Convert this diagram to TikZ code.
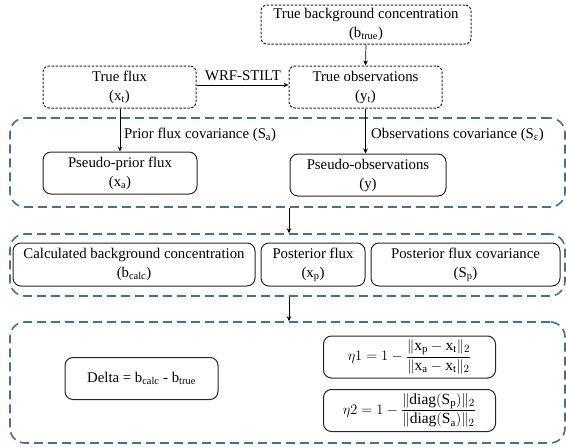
\documentclass[tikz,border=0pt]{standalone}
\usepackage{fontspec}
\setmainfont{Liberation Serif}
\usetikzlibrary{arrows.meta}
\definecolor{regblue}{HTML}{41719C}
\definecolor{boxline}{HTML}{262626}
\newcommand\sbs[1]{\textsubscript{#1}}
\begin{document}
\begin{tikzpicture}[x=1pt,y=-1pt,
  every node/.style={font=\fontsize{14.8}{19}\selectfont},
  truebox/.style={draw=boxline, line width=1pt, dash pattern=on 2.5pt off 1.5pt, rounded corners=6pt, align=center, inner sep=1pt},
  solidbox/.style={draw=boxline, line width=1pt, rounded corners=8pt, align=center, inner sep=1pt},
  region/.style={draw=regblue, line width=1.6pt, dash pattern=on 9pt off 5pt, rounded corners=15pt, inner sep=0pt},
  lbl/.style={inner sep=1pt},
  eqn/.style={font=\fontsize{15.5}{19}\selectfont},
  arr/.style={draw=black, line width=0.7pt, -{Stealth[length=5pt,width=4.5pt]}}
]
\useasboundingbox (0,0) rectangle (566,447);

% regions
\node[region, minimum width=555pt, minimum height=89pt] (r1) at (287.5,162.5) {};
\node[region, minimum width=555pt, minimum height=62pt] (r2) at (287.5,265) {};
\node[region, minimum width=555pt, minimum height=121pt] (r3) at (287.5,382.5) {};

% top boxes
\node[truebox, minimum width=210pt, minimum height=39pt] (tb) at (366,24.5) {True background concentration\\(b\sbs{true})};
\node[truebox, minimum width=153pt, minimum height=42pt] (tf) at (119.5,87) {True flux\\(x\sbs{t})};
\node[truebox, minimum width=153pt, minimum height=42pt] (to) at (365.5,87) {True observations\\(y\sbs{t})};

% pseudo boxes
\node[solidbox, minimum width=154pt, minimum height=42pt] (pp) at (120,173) {Pseudo-prior flux\\(x\sbs{a})};
\node[solidbox, minimum width=156pt, minimum height=42pt] (po) at (368,175) {Pseudo-observations\\(y)};

% posterior boxes
\node[solidbox, minimum width=242pt, minimum height=43pt] (bc) at (134,264.5) {Calculated background concentration\\(b\sbs{calc})};
\node[solidbox, minimum width=104pt, minimum height=43pt] (pf) at (313,264.5) {Posterior flux\\(x\sbs{p})};
\node[solidbox, minimum width=189pt, minimum height=43pt] (pc) at (465.5,264.5) {Posterior flux covariance\\(S\sbs{p})};

% result boxes
\node[solidbox, minimum width=153pt, minimum height=42pt] (dl) at (141.5,378.5) {Delta = b\sbs{calc} - b\sbs{true}};
\node[solidbox, eqn, minimum width=172pt, minimum height=42pt] (e1) at (409.5,357) {$\displaystyle \eta1 = 1 - \frac{\Vert\mathrm{x}_{\mathrm{p}} - \mathrm{x}_{\mathrm{t}}\Vert_2}{\Vert\mathrm{x}_{\mathrm{a}} - \mathrm{x}_{\mathrm{t}}\Vert_2}$};
\node[solidbox, eqn, minimum width=172pt, minimum height=42pt] (e2) at (409.5,410.5) {$\displaystyle \eta2 = 1 - \frac{\Vert\mathrm{diag}(\mathrm{S}_{\mathrm{p}})\Vert_2}{\Vert\mathrm{diag}(\mathrm{S}_{\mathrm{a}})\Vert_2}$};

% labels
\node[lbl] (wrf) at (243,76) {WRF-STILT};
\node[lbl, anchor=west] (lpa) at (123,135) {Prior flux covariance (S\sbs{a})};
\node[lbl, anchor=west] (lob) at (370,135) {Observations covariance (S\sbs{ε})};

% connectors
\draw[arr] (tb.south) -- (to.north);
\draw[arr] ([yshift=2pt]tf.east) -- ([yshift=2pt]to.west);
\draw[arr] (tf.south -| pp.north) -- (pp.north);
\draw[arr] (to.south) -- (to.south |- po.north);
\draw[arr] ([xshift=1.5pt]r1.south) -- ([xshift=1.5pt]r2.north);
\draw[arr] ([xshift=1.5pt]r2.south) -- ([xshift=1.5pt]r3.north);
\end{tikzpicture}
\end{document}
